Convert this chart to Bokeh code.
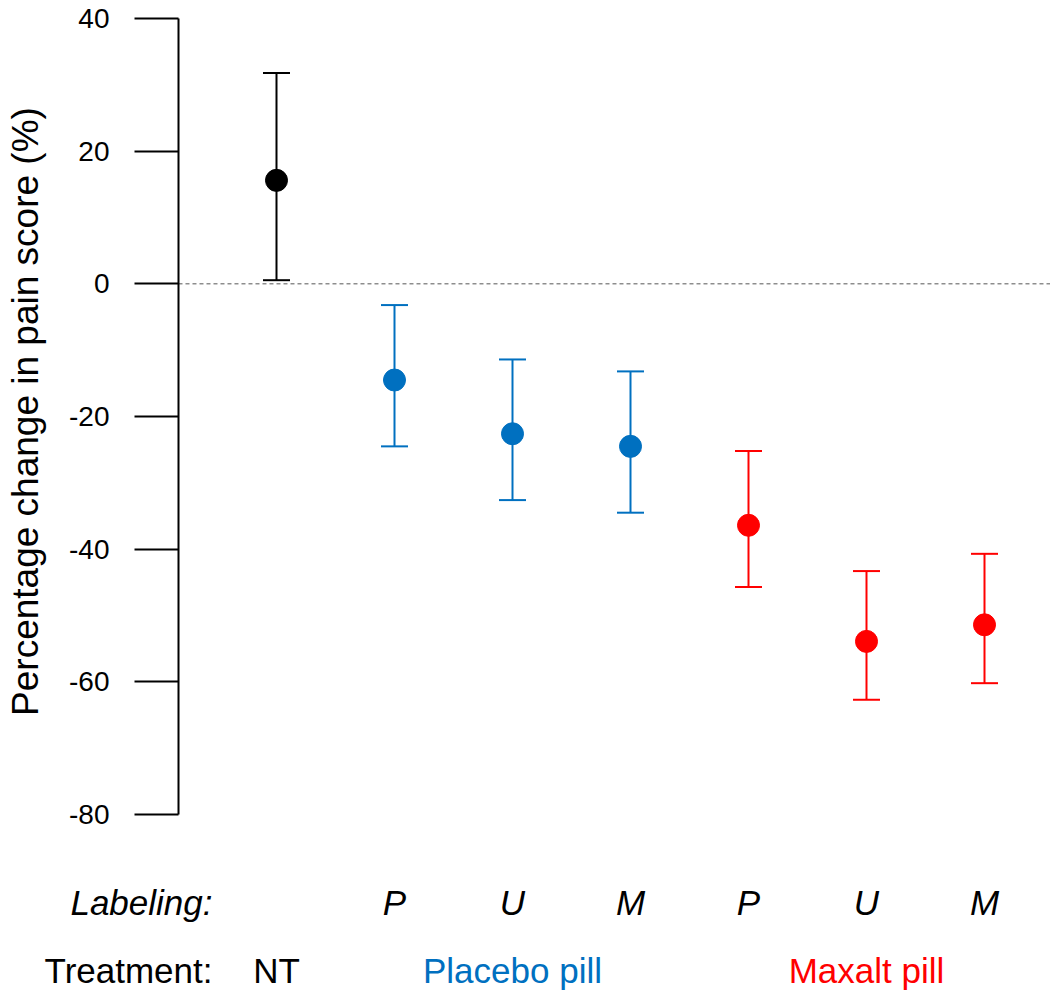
import math
from bokeh.plotting import figure
from bokeh.models import (Range1d, FixedTicker, Whisker, TeeHead,
                          ColumnDataSource, LinearAxis)
from bokeh.core.properties import value
from bokeh.embed import file_html
from bokeh.resources import INLINE

# ---- data ----
positions = [1, 2, 3, 4, 5, 6, 7]
labeling = ["", "P", "U", "M", "P", "U", "M"]
means = [15.6, -14.5, -22.6, -24.5, -36.4, -53.9, -51.4]
upper = [31.8, -3.2, -11.4, -13.2, -25.2, -43.3, -40.7]
lower = [0.55, -24.5, -32.6, -34.5, -45.7, -62.7, -60.2]
groups = ["NT", "Placebo", "Placebo", "Placebo", "Maxalt", "Maxalt", "Maxalt"]
treatment_names = ["NT", "Placebo pill", "Maxalt pill"]
treatment_pos = [1, 3, 6]
row_titles = ["Labeling:", "Treatment:"]
y_ticks = [-80, -60, -40, -20, 0, 20, 40]
y_tick_labels = ["-80", "-60", "-40", "-20", "0", "20", "40"]
y_title = "Percentage change in pain score (%)"

BLUE = "#0070C0"
RED = "#FF0000"
color_map = {"NT": "black", "Placebo": BLUE, "Maxalt": RED}
tcolor_map = {"NT": "black", "Placebo pill": BLUE, "Maxalt pill": RED}
colors = [color_map[g] for g in groups]
FONT = "Liberation Sans"

AXIS_X = 0.16949          # data x where the y axis sits
ROW1_Y = -93.27           # labeling row
ROW2_Y = -103.52          # treatment row
TITLE_X = 0.4576          # right edge of row titles

p = figure(width=1050, height=991, output_backend="svg", toolbar_location=None,
           x_range=Range1d(-1.33898, 7.55932), y_range=Range1d(-106.68, 42.714),
           min_border_left=0, min_border_right=0, min_border_top=0,
           min_border_bottom=0, background_fill_color="white",
           border_fill_color="white", x_axis_location=None,
           y_axis_location=None)
p.outline_line_color = None
p.grid.visible = False

ya = LinearAxis(fixed_location=AXIS_X)
ya.ticker = FixedTicker(ticks=y_ticks)
ya.major_label_overrides = {t: s for t, s in zip(y_ticks, y_tick_labels)}
ya.bounds = (-80, 40)
ya.major_tick_out = 44
ya.major_tick_in = 0
ya.minor_tick_out = 0
ya.minor_tick_in = 0
ya.axis_line_width = 2
ya.major_tick_line_width = 2
ya.major_label_standoff = 25
ya.major_label_text_font = FONT
ya.major_label_text_font_size = "28px"
ya.major_label_text_color = "black"
p.add_layout(ya, "left")

# y-axis title
p.text([-1.13], [-19.25], text=[y_title], angle=math.pi / 2,
       text_font=value(FONT), text_font_size="37px", text_align="center",
       text_baseline="middle", text_color="black")

# zero reference line (from the axis to the right edge)
p.segment(x0=[AXIS_X], y0=[0], x1=[7.56], y1=[0], line_color="#555555",
          line_width=1, line_dash="4 3")

src = ColumnDataSource(dict(x=positions, m=means, up=upper, lo=lower,
                            c=colors, lab=labeling))
for g in ["NT", "Placebo", "Maxalt"]:
    idx = [i for i, gg in enumerate(groups) if gg == g]
    s = ColumnDataSource(dict(x=[positions[i] for i in idx],
                              up=[upper[i] for i in idx],
                              lo=[lower[i] for i in idx]))
    w = Whisker(source=s, base="x", upper="up", lower="lo", dimension="height",
                line_color=color_map[g], line_width=2,
                upper_head=TeeHead(size=27, line_color=color_map[g], line_width=2),
                lower_head=TeeHead(size=27, line_color=color_map[g], line_width=2))
    p.add_layout(w)

p.scatter("x", "m", source=src, size=22, fill_color="c", line_color="c",
          marker="circle")

# labeling row
p.text("x", ROW1_Y, text="lab", source=src, text_font=value(FONT),
       text_font_size="35px", text_font_style="italic", text_align="center",
       text_baseline="middle", text_color="black")

# treatment row
tsrc = ColumnDataSource(dict(x=treatment_pos, t=treatment_names,
                             c=[tcolor_map[t] for t in treatment_names]))
p.text("x", ROW2_Y, text="t", source=tsrc, text_font=value(FONT),
       text_font_size="35px", text_align="center", text_baseline="middle",
       text_color="c")

# row titles
p.text([TITLE_X], [ROW1_Y], text=[row_titles[0]], text_font=value(FONT),
       text_font_size="35px", text_font_style="italic", text_align="right",
       text_baseline="middle", text_color="black")
p.text([TITLE_X], [ROW2_Y], text=[row_titles[1]], text_font=value(FONT),
       text_font_size="35px", text_align="right", text_baseline="middle",
       text_color="black")

open("out.html", "w").write(file_html(p, INLINE))
